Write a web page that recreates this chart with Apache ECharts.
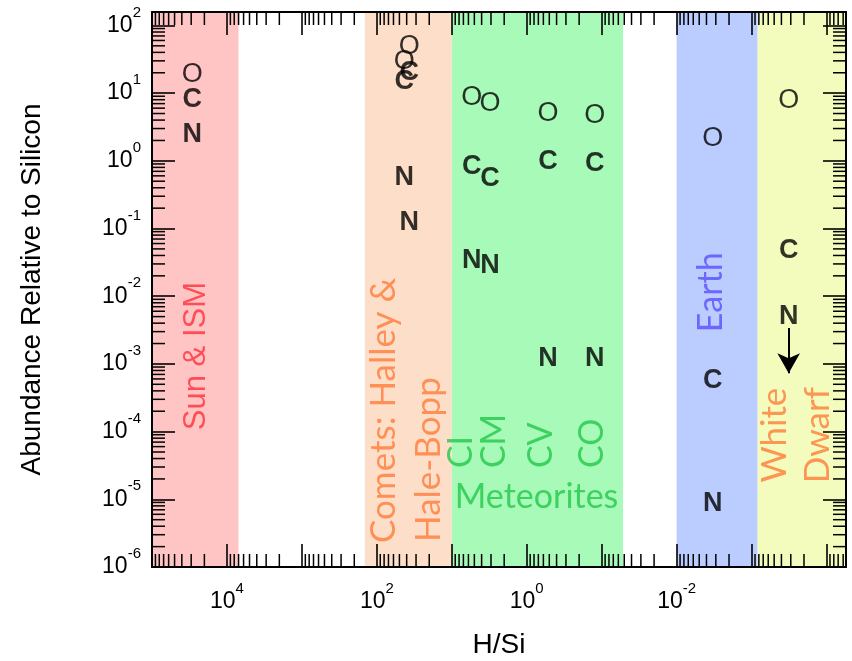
<!DOCTYPE html>
<html>
<head>
<meta charset="utf-8">
<script src="https://cdn.jsdelivr.net/npm/echarts@6/dist/echarts.min.js"></script>
<style>
  html, body { margin: 0; padding: 0; background: #fff; }
  #chart { width: 852px; height: 661px; }
</style>
</head>
<body>
<div id="chart"></div>
<script>
// Abundances of O, C and N relative to Si, against H/Si, for several reservoirs
const sources = ['Sun & ISM', 'Halley', 'Hale-Bopp', 'CI', 'CM', 'CV', 'CO', 'Earth', 'White Dwarf'];
const hToSi = [2.9e4, 37, 43, 5.4, 3.1, 0.52, 0.124, 3.3e-3, 3.2e-4];
const oToSi = [18.9, 49, 29, 8.75, 6.98, 4.98, 4.7, 2.15, 7.8];
const cToSi = [8.1, 20, 15, 0.81, 0.55, 0.96, 0.91, 5.75e-4, 0.048];
const nToSi = [2.46, 0.124, 0.57, 0.034, 0.0287, 1.22e-3, 1.22e-3, 8.8e-6, 4.96e-3];

// The white-dwarf nitrogen value is an upper limit (arrow pointing down)
const nLimitX = 3.2e-4;
const nLimitFrom = 3.4e-3;
const nLimitTo = 7.3e-4;

// Shaded H/Si ranges of each reservoir
const bandFrom = [1e5, 145, 10, 0.01, 8.3e-4];
const bandTo = [7000, 10, 0.052, 8.3e-4, 5.5e-5];
const bandColors = ['#FFC4C4', '#FDDEC8', '#A8FAB9', '#BBCDFF', '#F3FCBC'];

// Captions inside the bands
const captionText = ['Sun & ISM', 'Comets: Halley &', 'Hale-Bopp', 'CI', 'CM', 'CV', 'CO', 'Meteorites', 'Earth', 'White', 'Dwarf'];
const captionX = [2.59e4, 80.6, 20.3, 7.59, 2.75, 0.65, 0.136, 9.12, 3.52e-3, 4.93e-4, 1.32e-4];
const captionY = [1.05e-4, 2.26e-6, 2.34e-6, 2.89e-5, 2.89e-5, 2.89e-5, 2.89e-5, 1.08e-5, 0.01146, 8.87e-5, 8.87e-5];
const captionColor = ['#FF2F3A', '#FF7C38', '#FF7C38', '#22C84A', '#22C84A', '#22C84A', '#22C84A', '#22C84A', '#5A4CFF', '#FF7C38', '#FF7C38'];
const captionAlign = ['left', 'left', 'left', 'left', 'left', 'left', 'left', 'left', 'center', 'center', 'center'];
const captionRotate = [90, 90, 90, 90, 90, 90, 90, 0, 90, 90, 90];
const captionSize = [31, 35, 35, 34, 34, 34, 34, 34, 34, 35, 35];

// Axis ranges
const xMin = 5.5e-5, xMax = 1e5;
const yMin = 1e-6, yMax = 158;

const SANS = "'Liberation Sans', Arial, Helvetica, sans-serif";
const HUMANIST = "Lato, 'Open Sans', sans-serif";
const CLEAR = 'rgba(0,0,0,0)';

// Minor log ticks (2..9 x 10^n) for the frame
const minorX = [];
for (let e = -5; e <= 4; e++) for (let k = 2; k <= 9; k++) {
  const v = k * Math.pow(10, e);
  if (v > xMin && v < xMax) minorX.push(v);
}
const minorY = [];
for (let e = -6; e <= 2; e++) for (let k = 2; k <= 9; k++) {
  const v = k * Math.pow(10, e);
  if (v > yMin && v < yMax) minorY.push(v);
}
const minorTicks = minorX.map(v => [v, 1, 0]).concat(minorY.map(v => [1, v, 1]));

function powerLabel(v, lowest, step) {
  const e = Math.log10(v);
  const r = Math.round(e);
  if (Math.abs(e - r) > 1e-6) return '';
  if (r < lowest || r % step !== 0) return '';
  return '{b|10}{s|' + r + '}';
}

const richPow = {
  b: { fontSize: 23, fontFamily: SANS, color: '#000', padding: [9, 0, 0, 0], verticalAlign: 'bottom' },
  s: { fontSize: 15, fontFamily: SANS, color: '#000', verticalAlign: 'top' }
};

const axisLineStyle = { show: true, lineStyle: { color: '#000', width: 2 } };
const majorTick = { show: true, inside: true, length: 23, interval: 0, lineStyle: { color: '#000', width: 1.6 } };

function letterSeries(name, values, letter, weight) {
  return {
    name: name,
    type: 'scatter',
    z: 8,
    symbolSize: 2,
    itemStyle: { color: CLEAR },
    silent: true,
    data: sources.map((s, i) => [hToSi[i], values[i]]),
    label: {
      show: true,
      position: 'inside',
      formatter: letter,
      fontFamily: SANS,
      fontSize: 27,
      fontWeight: weight,
      color: '#000'
    }
  };
}

const chart = echarts.init(document.getElementById('chart'), null, { renderer: 'canvas' });

chart.setOption({
  animation: false,
  backgroundColor: '#fff',
  grid: { left: 152, right: 6, top: 12, bottom: 94, outerBoundsMode: 'none', containLabel: false },
  xAxis: [
    {
      type: 'log', logBase: 10, inverse: true, min: xMin, max: xMax, z: 5,
      name: 'H/Si', nameLocation: 'middle', nameGap: 64,
      nameTextStyle: { fontFamily: SANS, fontSize: 28, color: '#000' },
      axisLine: axisLineStyle, axisTick: majorTick, splitLine: { show: false },
      axisLabel: {
        interval: 0, margin: 14, showMinLabel: false, showMaxLabel: false,
        formatter: v => powerLabel(v, -2, 2), rich: richPow
      }
    },
    {
      type: 'log', logBase: 10, inverse: true, min: xMin, max: xMax, z: 5, position: 'top',
      axisLine: axisLineStyle, axisTick: majorTick, splitLine: { show: false },
      axisLabel: { show: false }
    }
  ],
  yAxis: [
    {
      type: 'log', logBase: 10, min: yMin, max: yMax, z: 5,
      name: 'Abundance Relative to Silicon', nameLocation: 'middle', nameGap: 106,
      nameTextStyle: { fontFamily: SANS, fontSize: 28, color: '#000' },
      axisLine: axisLineStyle, axisTick: majorTick, splitLine: { show: false },
      axisLabel: {
        interval: 0, margin: 11, showMaxLabel: false, padding: [0, 0, 9, 0],
        formatter: v => powerLabel(v, -6, 1), rich: richPow
      }
    },
    {
      type: 'log', logBase: 10, min: yMin, max: yMax, z: 5, position: 'right',
      axisLine: axisLineStyle, axisTick: majorTick, splitLine: { show: false },
      axisLabel: { show: false }
    }
  ],
  series: [
    {
      name: 'bands',
      type: 'scatter',
      z: 1,
      data: [],
      silent: true,
      markArea: {
        silent: true,
        label: { show: false },
        data: bandFrom.map((f, i) => [
          { xAxis: f, itemStyle: { color: bandColors[i], opacity: 1 } },
          { xAxis: bandTo[i] }
        ])
      }
    },
    {
      name: 'minor ticks',
      type: 'custom',
      z: 6,
      silent: true,
      data: minorTicks,
      encode: { x: 0, y: 1 },
      renderItem: function (params, api) {
        const cs = params.coordSys;
        const style = { stroke: '#000', lineWidth: 1.5 };
        const len = 13;
        if (api.value(2) === 0) {
          const px = api.coord([api.value(0), 1])[0];
          return {
            type: 'group', children: [
              { type: 'line', shape: { x1: px, y1: cs.y + cs.height, x2: px, y2: cs.y + cs.height - len }, style: style },
              { type: 'line', shape: { x1: px, y1: cs.y, x2: px, y2: cs.y + len }, style: style }
            ]
          };
        }
        const py = api.coord([1, api.value(1)])[1];
        return {
          type: 'group', children: [
            { type: 'line', shape: { x1: cs.x, y1: py, x2: cs.x + len, y2: py }, style: style },
            { type: 'line', shape: { x1: cs.x + cs.width, y1: py, x2: cs.x + cs.width - len, y2: py }, style: style }
          ]
        };
      }
    },
    {
      name: 'captions',
      type: 'scatter',
      z: 7,
      symbolSize: 2,
      itemStyle: { color: CLEAR },
      silent: true,
      data: captionText.map((t, i) => ({
        value: [captionX[i], captionY[i]],
        label: {
          show: true,
          position: 'inside',
          formatter: t,
          rotate: captionRotate[i],
          align: captionAlign[i],
          verticalAlign: 'middle',
          color: captionColor[i],
          fontFamily: i === 0 ? SANS : HUMANIST,
          fontSize: captionSize[i]
        }
      }))
    },
    letterSeries('O', oToSi, 'O', 'normal'),
    letterSeries('C', cToSi, 'C', 'bold'),
    letterSeries('N', nToSi, 'N', 'bold'),
    {
      name: 'N upper limit',
      type: 'scatter',
      z: 8,
      data: [],
      silent: true,
      markLine: {
        silent: true,
        symbol: ['none', 'arrow'],
        symbolSize: [17, 20],
        label: { show: false },
        lineStyle: { color: '#000', width: 2, type: 'solid' },
        data: [[{ coord: [nLimitX, nLimitFrom] }, { coord: [nLimitX, nLimitTo] }]]
      }
    }
  ]
});
</script>
</body>
</html>
